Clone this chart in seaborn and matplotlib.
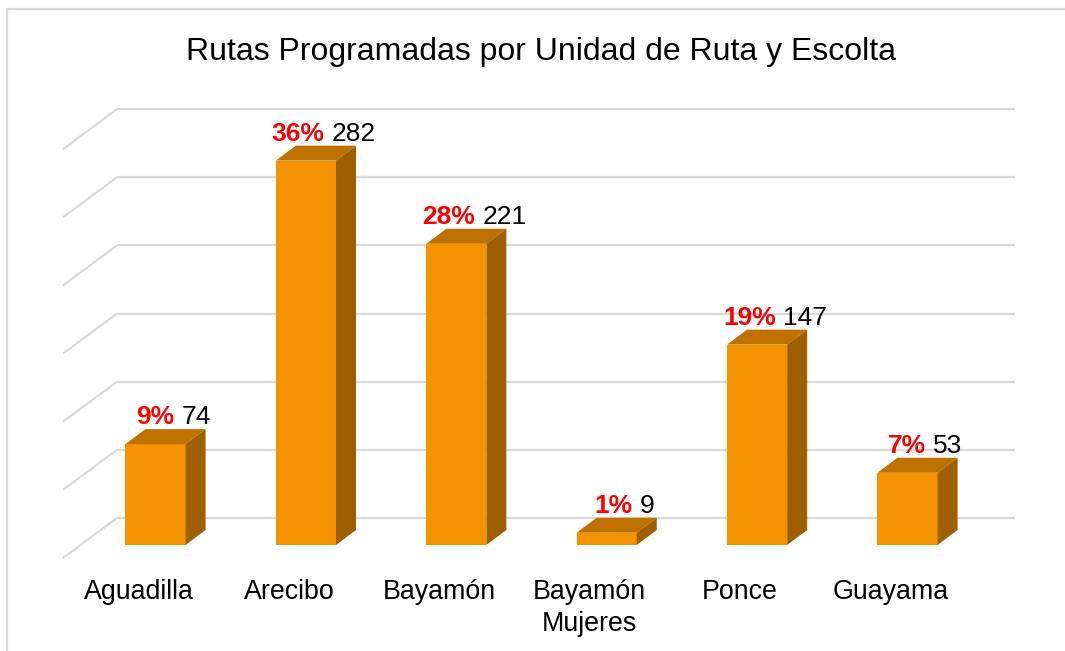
import numpy as np
import pandas as pd
import matplotlib
matplotlib.use("Agg")
import matplotlib.pyplot as plt
import seaborn as sns
from matplotlib.patches import Polygon
from matplotlib.transforms import ScaledTranslation
from matplotlib.lines import Line2D

# ---- data ----
CATEGORIES = ["Aguadilla", "Arecibo", "Bayamón", "Bayamón\nMujeres", "Ponce", "Guayama"]
ROUTES = [74, 282, 221, 9, 147, 53]
TITLE = "Rutas Programadas por Unidad de Ruta y Escolta"
GRID_VALUES = [0, 50, 100, 150, 200, 250, 300]

# ---- style ----
sns.set_style("white")
plt.rcParams["font.family"] = ["Liberation Sans", "DejaVu Sans"]

FRONT = "#F59200"
TOP = "#BF7100"
SIDE = "#9D5F00"
GRID = "#D9D9D9"

W, H = 1065, 651
fig = plt.figure(figsize=(W / 100, H / 100), dpi=100)
fig.patch.set_facecolor("white")
ax = fig.add_axes([60 / W, 1 - 560 / H, 960 / W, 465 / H])

df = pd.DataFrame({"unidad": CATEGORIES, "rutas": ROUTES})
sns.barplot(data=df, x="unidad", y="rutas", order=CATEGORIES, color=FRONT,
            saturation=1, width=0.4, linewidth=0, ax=ax, zorder=3)

# pixel scale of the plotting area
PX_X, X0 = 150.4, 155.5
PX_Y, Y0 = 1.363, 545
ax.set_xlim((60 - X0) / PX_X, (1020 - X0) / PX_X)
ax.set_ylim(-(560 - Y0) / PX_Y, (Y0 - 95) / PX_Y)

DX, DY = 20 / PX_X, 15 / PX_Y          # bar depth
BACK = 27 / PX_Y                       # back wall offset
GX0, GX1 = (117 - X0) / PX_X, (1015 - X0) / PX_X
SX, SY = -54 / PX_X, -40 / PX_Y        # side wall slant

for v in GRID_VALUES:
    yb = v + BACK
    ax.plot([GX0, GX1], [yb, yb], color=GRID, lw=1.6, zorder=1, clip_on=False,
            solid_capstyle="butt")
    ax.plot([GX0 + SX, GX0], [yb + SY, yb], color=GRID, lw=1.6, zorder=1,
            clip_on=False, solid_capstyle="butt")

# 3D faces
for patch in list(ax.patches):
    x0, w, h = patch.get_x(), patch.get_width(), patch.get_height()
    top = Polygon([(x0, h), (x0 + w, h), (x0 + w + DX, h + DY), (x0 + DX, h + DY)],
                  closed=True, facecolor=TOP, edgecolor="none", zorder=3)
    side = Polygon([(x0 + w, 0), (x0 + w + DX, DY), (x0 + w + DX, h + DY), (x0 + w, h)],
                   closed=True, facecolor=SIDE, edgecolor="none", zorder=3)
    ax.add_patch(top)
    ax.add_patch(side)

ax.set_xlabel("")
ax.set_ylabel("")
ax.set_yticks([])
for s in ax.spines.values():
    s.set_visible(False)
ax.tick_params(axis="x", length=0, pad=13.5, labelsize=19.3, labelcolor="black")
for lbl in ax.get_xticklabels():
    lbl.set_linespacing(1.3)
    lbl.set_transform(lbl.get_transform() + ScaledTranslation(-17 / 100, 0, fig.dpi_scale_trans))

# data labels
total = sum(ROUTES)
fig.canvas.draw()
renderer = fig.canvas.get_renderer()
bars = [p for p in ax.patches if not isinstance(p, Polygon)]
for patch, v in zip(bars, ROUTES):
    cx = patch.get_x() + patch.get_width() / 2
    ytop = patch.get_height() + DY
    pct = f"{round(100 * v / total)}%"
    t1 = ax.text(cx, ytop, pct, color="#FF0000", fontweight="bold", fontsize=19,
                 ha="left", va="baseline", zorder=5)
    t2 = ax.text(cx, ytop, f"{v}", color="black", fontsize=19,
                 ha="left", va="baseline", zorder=5)
    w1 = t1.get_window_extent(renderer).width
    w2 = t2.get_window_extent(renderer).width
    gap = 7
    start = 18 - (w1 + gap + w2) / 2
    t1.set_transform(ax.transData + ScaledTranslation(start / 100, 5 / 100, fig.dpi_scale_trans))
    t2.set_transform(ax.transData + ScaledTranslation((start + w1 + gap) / 100, 5 / 100,
                                                      fig.dpi_scale_trans))

fig.text(541 / W, 1 - 60 / H, TITLE, ha="center", va="baseline", fontsize=23, color="black")

# chart border
fig.add_artist(Line2D([7 / W, 7 / W], [0, 1 - 9 / H], transform=fig.transFigure,
                      color=GRID, lw=1.6))
fig.add_artist(Line2D([7 / W, 1], [1 - 9 / H, 1 - 9 / H], transform=fig.transFigure,
                      color=GRID, lw=1.6))

fig.savefig("out.png", dpi=100, facecolor="white")
